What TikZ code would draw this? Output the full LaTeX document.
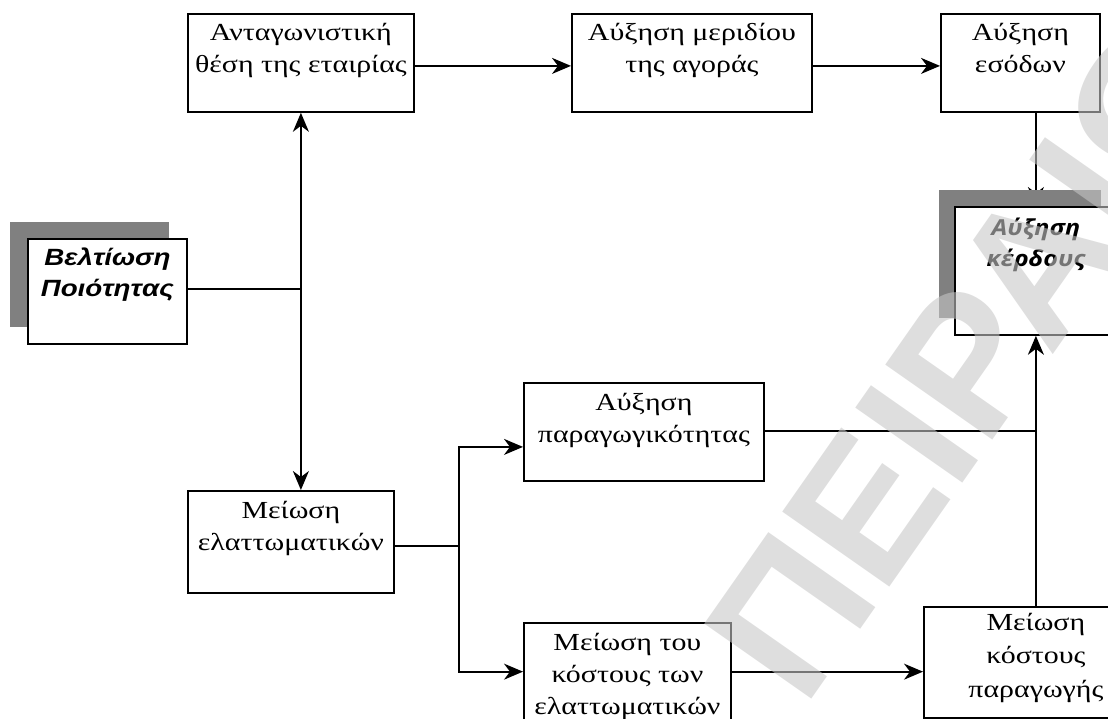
\documentclass[tikz,border=0pt]{standalone}
\usepackage{fontspec}
\setmainfont{Liberation Serif}[FakeStretch=1.22]
\newfontfamily\arialish{Liberation Sans}[FakeStretch=1.18]
\newfontfamily\wmfont{Liberation Sans}
\newfontfamily\opensans{Open Sans}[FakeStretch=1.14]
\usetikzlibrary{arrows.meta,calc,shadows,backgrounds}
\definecolor{shgray}{HTML}{808080}
\definecolor{wmgray}{HTML}{C7C7C7}
\newcommand\lnstrut{\rule{0pt}{20pt}}
\begin{document}
\begin{tikzpicture}[x=1pt,y=-1pt,
  box/.style={draw, line width=1.8pt, fill=white, anchor=north west, inner sep=0pt},
  shbox/.style={box, general shadow={fill=shgray, shadow xshift=#1, shadow yshift=17pt}},
  lbl/.style={anchor=north, align=center, inner sep=0pt, font=\fontsize{24.5}{32}\selectfont},
  keylbl/.style={anchor=north, align=center, inner sep=0pt},
  link/.style={line width=1.8pt},
  >={Stealth[length=19pt,width=16pt,inset=6pt]}]
\useasboundingbox (0,0) rectangle (1108,718);

% boxes
\node[box, minimum width=226pt, minimum height=98pt] (ant) at (187,13) {};
\node[box, minimum width=240pt, minimum height=98pt] (mer) at (571,13) {};
\node[box, minimum width=159pt, minimum height=98pt] (eso) at (940,13) {};
\node[shbox=-18pt, minimum width=159pt, minimum height=105pt] (vel) at (27,238) {};
\node[shbox=-16pt, minimum width=162pt, minimum height=128pt] (ker) at (954,206) {};
\node[box, minimum width=206pt, minimum height=102pt] (mei) at (187,490) {};
\node[box, minimum width=240pt, minimum height=98pt] (par) at (523,382) {};
\node[box, minimum width=207pt, minimum height=97.5pt] (kel) at (523,622) {};
\node[box, minimum width=224pt, minimum height=111pt] (kpa) at (923,606) {};

% box texts
\node[lbl] (tant) at ($(ant.north)+(0,7)$) {\lnstrut Ανταγωνιστική\\θέση της εταιρίας};
\node[lbl] (tmer) at ($(mer.north)+(0,7)$) {\lnstrut Αύξηση μεριδίου\\της αγοράς};
\node[lbl] (teso) at ($(eso.north)+(0,7)$) {\lnstrut Αύξηση\\εσόδων};
\node[keylbl, font=\arialish\bfseries\itshape\fontsize{23.5}{31}\selectfont] (tvel) at ($(vel.north)+(0,7)$) {\lnstrut Βελτίωση\\Ποιότητας};
\node[keylbl, font=\opensans\bfseries\itshape\fontsize{22}{31}\selectfont] (tker) at ($(ker.north)+(0,9)$) {\lnstrut Αύξηση\\κέρδους};
\node[lbl] (tmei) at ($(mei.north)+(0,8)$) {\lnstrut Μείωση\\ελαττωματικών};
\node[lbl] (tpar) at ($(par.north)+(0,8)$) {\lnstrut Αύξηση\\παραγωγικότητας};
\node[lbl] (tkel) at ($(kel.north)+(0,8)$) {\lnstrut Μείωση του\\κόστους των\\ελαττωματικών};
\node[lbl, font=\fontsize{24.5}{33.5}\selectfont] (tkpa) at ($(kpa.north)+(0,4)$) {\lnstrut Μείωση\\κόστους\\παραγωγής};

% connectors
\coordinate (velout) at ($(vel.east)+(0,-2.5)$);
\coordinate (meiout) at ($(mei.east)+(0,4)$);
\coordinate (split) at ($(meiout)+(64,0)$);
\coordinate (parin) at ($(par.west)+(0,15)$);
\coordinate (parout) at ($(par.east)+(0,-1)$);

\draw[link,->] ($(ant.east)+(0,3)$) -- ($(mer.west)+(0,3)$);
\draw[link,->] ($(mer.east)+(0,3)$) -- ($(eso.west)+(0,3)$);
\draw[link,<->] (ant.south) -- (mei.north -| ant.south);
\draw[link] (velout) -- (velout -| ant.south);
\draw[link] (meiout) -- (split);
\draw[link,->] (split) |- (parin);
\draw[link,->] (split) |- (kel.west);
\draw[link,->] (kel.east) -- (kel.east -| kpa.west);
\draw[link] (parout) -- (parout -| kpa.north);
\draw[link,->] (kpa.north) -- (ker.south);

% the arrow into the profit box runs under its shadow
\begin{scope}[on background layer]
\draw[link,->] (eso.south -| ker.north) -- (ker.north);
\end{scope}

% watermark
\node[rotate=55, anchor=base west, inner sep=0pt, text=wmgray, text opacity=0.59,
      font=\wmfont\bfseries\fontsize{190}{190}\selectfont] (wm) at (804,710) {ΠΕΙΡΑΙΩΣ};
\end{tikzpicture}
\end{document}
